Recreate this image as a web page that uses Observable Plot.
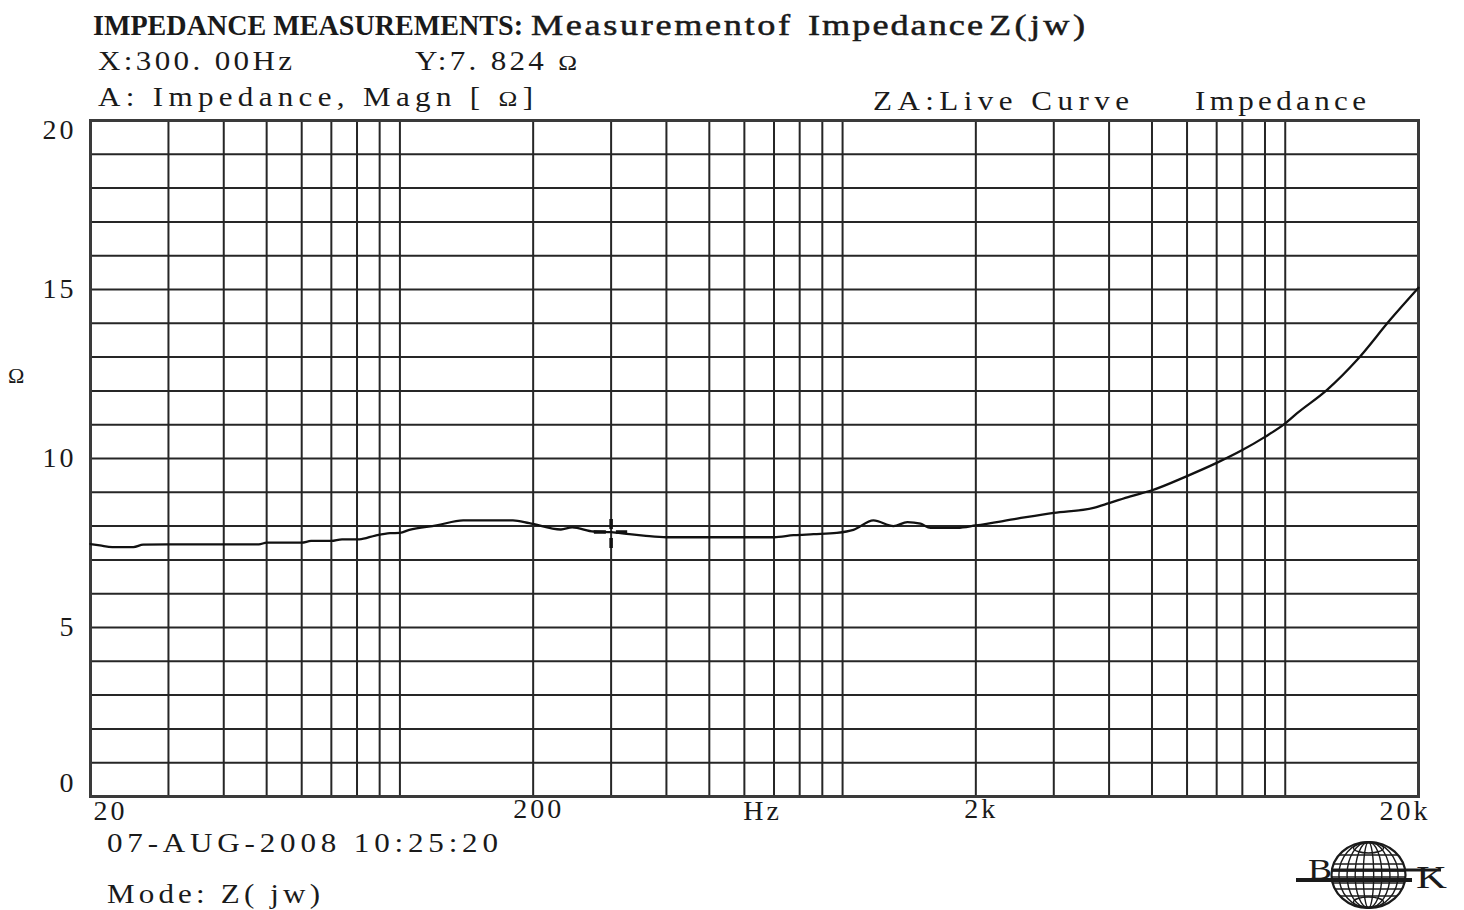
<!DOCTYPE html>
<html>
<head>
<meta charset="utf-8">
<script src="https://cdn.jsdelivr.net/npm/d3@7"></script>
<script src="https://cdn.jsdelivr.net/npm/@observablehq/plot@0.6"></script>
<style>
  body { margin: 0; background: #fff; }
  #wrap { position: relative; width: 1464px; height: 910px; overflow: hidden; background: #fff; }
  #wrap > svg { position: absolute; left: 0; top: 0; }
</style>
</head>
<body>
<div id="wrap"></div>
<script>
// ---- data ----
const freqHz = [20, 21, 22.4, 25, 26.3, 30, 40, 48, 50, 60, 63, 70, 74, 81, 88, 95, 100, 105, 121, 139, 180, 196,
  231, 245, 274, 300, 330, 355, 400, 700, 775, 860, 970, 1058, 1174, 1303, 1401, 1500, 1580, 1817, 2000,
  2480, 3000, 3690, 4000, 4470, 5000, 6000, 7000, 8000, 9000, 10000, 10640, 12430, 14540, 17280, 20000];
const impedanceOhm = [7.47, 7.43, 7.38, 7.38, 7.45, 7.46, 7.46, 7.46, 7.51, 7.51, 7.56, 7.56, 7.61, 7.61, 7.72, 7.79, 7.80, 7.89, 8.02, 8.17, 8.17, 8.09,
  7.90, 7.96, 7.84, 7.82, 7.76, 7.72, 7.67, 7.67, 7.73, 7.76, 7.80, 7.89, 8.17, 8.00, 8.12, 8.07, 7.95, 7.95, 8.02,
  8.22, 8.39, 8.54, 8.68, 8.88, 9.06, 9.48, 9.87, 10.25, 10.64, 11.04, 11.34, 12.03, 12.92, 14.11, 15.05];
const xGridHz = [20, 30, 40, 50, 60, 70, 80, 90, 100, 200, 300, 400, 500, 600, 700, 800, 900, 1000,
  2000, 3000, 4000, 5000, 6000, 7000, 8000, 9000, 10000, 20000];
const yGridOhm = d3.range(0, 21, 1);
const yTickOhm = [5, 10, 15];
const yEdgeTicks = [0, 20];
const xMidTicks = [200, 2000];
const xTickText = {20: "20", 200: "200", 2000: "2k", 20000: "20k"};
const cursorHz = 300;
const cursorOhm = 7.824;
const cursorSpanHz = [275, 327];
const cursorSpanOhm = [7.34, 8.2];

const data = freqHz.map((f, i) => ({f, z: impedanceOhm[i]}));
const SERIF = "'Liberation Serif', 'DejaVu Serif', serif";
const INK = "#1a1a1a";
const GRID = "#262626";

const plot = Plot.plot({
  width: 1464,
  height: 910,
  marginLeft: 90,
  marginRight: 46,
  marginTop: 120,
  marginBottom: 114,
  style: {fontFamily: SERIF, fontSize: "28px", color: INK, background: "white", overflow: "visible"},
  x: {type: "log", domain: [20, 20000]},
  y: {domain: [0, 20]},
  marks: [
    Plot.ruleX(xGridHz, {stroke: GRID, strokeWidth: 2}),
    Plot.ruleY(yGridOhm, {stroke: GRID, strokeWidth: 2}),
    Plot.frame({stroke: "#3a3a3a", strokeWidth: 3}),
    Plot.line(data, {x: "f", y: "z", stroke: "#111", strokeWidth: 2.3, curve: "monotone-x"}),
    Plot.ruleX([cursorHz], {y1: cursorSpanOhm[0], y2: cursorSpanOhm[1], stroke: "#111", strokeWidth: 3.5, strokeDasharray: "10 9 10"}),
    Plot.ruleY([cursorOhm], {x1: cursorSpanHz[0], x2: cursorSpanHz[1], stroke: "#111", strokeWidth: 3.5, strokeDasharray: "12 10 12"}),
    Plot.axisY(yTickOhm, {tickSize: 0, tickPadding: 14, label: null, fill: INK}),
    Plot.text([yEdgeTicks[1]], {y: d => d, text: d => String(d), frameAnchor: "left", textAnchor: "end", dx: -14, dy: 10, fill: INK}),
    Plot.text([yEdgeTicks[0]], {y: d => d, text: d => String(d), frameAnchor: "left", textAnchor: "end", dx: -14, dy: -13, fill: INK}),
    Plot.axisX(xMidTicks, {tickSize: 0, tickPadding: 2, label: null, tickFormat: d => xTickText[d], dx: 5.5, fill: INK}),
    Plot.text([20], {x: d => d, text: d => xTickText[d], frameAnchor: "bottom", textAnchor: "start", lineAnchor: "top", dy: 4, dx: 3, fill: INK}),
    Plot.text([20000], {x: d => d, text: d => xTickText[d], frameAnchor: "bottom", textAnchor: "end", lineAnchor: "top", dy: 4, dx: 12, fill: INK}),
    Plot.text(["Hz"], {text: d => d, frameAnchor: "bottom", lineAnchor: "top", dy: 4, dx: 8, fill: INK})
  ]
});
plot.style.letterSpacing = "3px";
document.getElementById("wrap").appendChild(plot);

// ---- header / footer text and logo overlay ----
const ov = d3.select("#wrap").append("svg")
  .attr("width", 1464).attr("height", 910)
  .attr("font-family", SERIF).attr("fill", INK)
  .style("pointer-events", "none");

function label(parts, x, y, len, size, opts = {}) {
  const sx = opts.sx || 1;
  const t = ov.append("text")
    .attr("transform", `translate(${x},${y}) scale(${sx},1)`)
    .attr("x", 0).attr("y", 0)
    .attr("font-size", size)
    .attr("textLength", len / sx)
    .attr("lengthAdjust", opts.adjust || "spacing");
  if (opts.weight) t.attr("font-weight", opts.weight);
  if (opts.stroke) t.attr("stroke", INK).attr("stroke-width", opts.stroke);
  for (const p of [].concat(parts)) {
    if (typeof p === "string") t.append("tspan").text(p);
    else t.append("tspan").attr("font-size", p.size).text(p.text);
  }
  return t;
}

label("IMPEDANCE MEASUREMENTS:", 93, 35, 430, 30, {weight: "bold", adjust: "spacingAndGlyphs"});
label("Measurementof", 531, 35, 259, 29, {sx: 1.25, stroke: 0.5});
label("Impedance", 808, 35, 175, 29, {sx: 1.25, stroke: 0.5});
label("Z(jw)", 989, 35, 96, 29, {sx: 1.25, stroke: 0.5});

label("X:300. 00Hz", 98, 70, 194, 27, {sx: 1.15});
label(["Y:7. 824 ", {text: "Ω", size: 22}], 415, 70, 162, 27, {sx: 1.15});

label(["A:  Impedance,  Magn  [ ", {text: "Ω", size: 22}, "]"], 98, 106, 435, 27, {sx: 1.15});
label("ZA:Live Curve", 873, 110, 256, 27, {sx: 1.15});
label("Impedance", 1195, 110, 171, 27, {sx: 1.15});

label("Ω", 8, 383, 17, 22);

label("07-AUG-2008 10:25:20", 107, 852, 391, 27, {sx: 1.15});
label("Mode:  Z( jw)", 107, 903, 213, 27, {sx: 1.15});

// B&K style logo
const cx = 1368.5, cy = 875, rx = 37, ry = 33;
const logo = ov.append("g").attr("fill", "none").attr("stroke", INK);
logo.append("ellipse").attr("cx", cx).attr("cy", cy).attr("rx", rx).attr("ry", ry).attr("stroke-width", 2.2);
for (const k of [0.8, 0.58, 0.36, 0.14]) {
  logo.append("ellipse").attr("cx", cx).attr("cy", cy).attr("rx", rx * k).attr("ry", ry).attr("stroke-width", 1.4);
}
logo.append("ellipse").attr("cx", cx).attr("cy", cy - ry + 6).attr("rx", 15).attr("ry", 5).attr("stroke-width", 1.4);
logo.append("ellipse").attr("cx", cx).attr("cy", cy + ry - 6).attr("rx", 15).attr("ry", 5).attr("stroke-width", 1.4);
for (const dy of [-20, -11, -4, 2, 8, 14, 21]) {
  const hw = rx * Math.sqrt(1 - (dy / ry) ** 2);
  logo.append("line").attr("x1", cx - hw).attr("x2", cx + hw).attr("y1", cy + dy).attr("y2", cy + dy).attr("stroke-width", 1.6);
}
logo.append("line").attr("x1", 1296).attr("x2", 1412).attr("y1", 880).attr("y2", 880).attr("stroke-width", 4);
logo.append("line").attr("x1", 1331).attr("x2", 1441).attr("y1", 870).attr("y2", 870).attr("stroke-width", 3);
ov.append("text").attr("x", 1308).attr("y", 879).attr("font-size", 30).attr("textLength", 24).attr("lengthAdjust", "spacingAndGlyphs").text("B");
ov.append("text").attr("x", 1416).attr("y", 888).attr("font-size", 31).attr("textLength", 31).attr("lengthAdjust", "spacingAndGlyphs").text("K");
</script>
</body>
</html>
